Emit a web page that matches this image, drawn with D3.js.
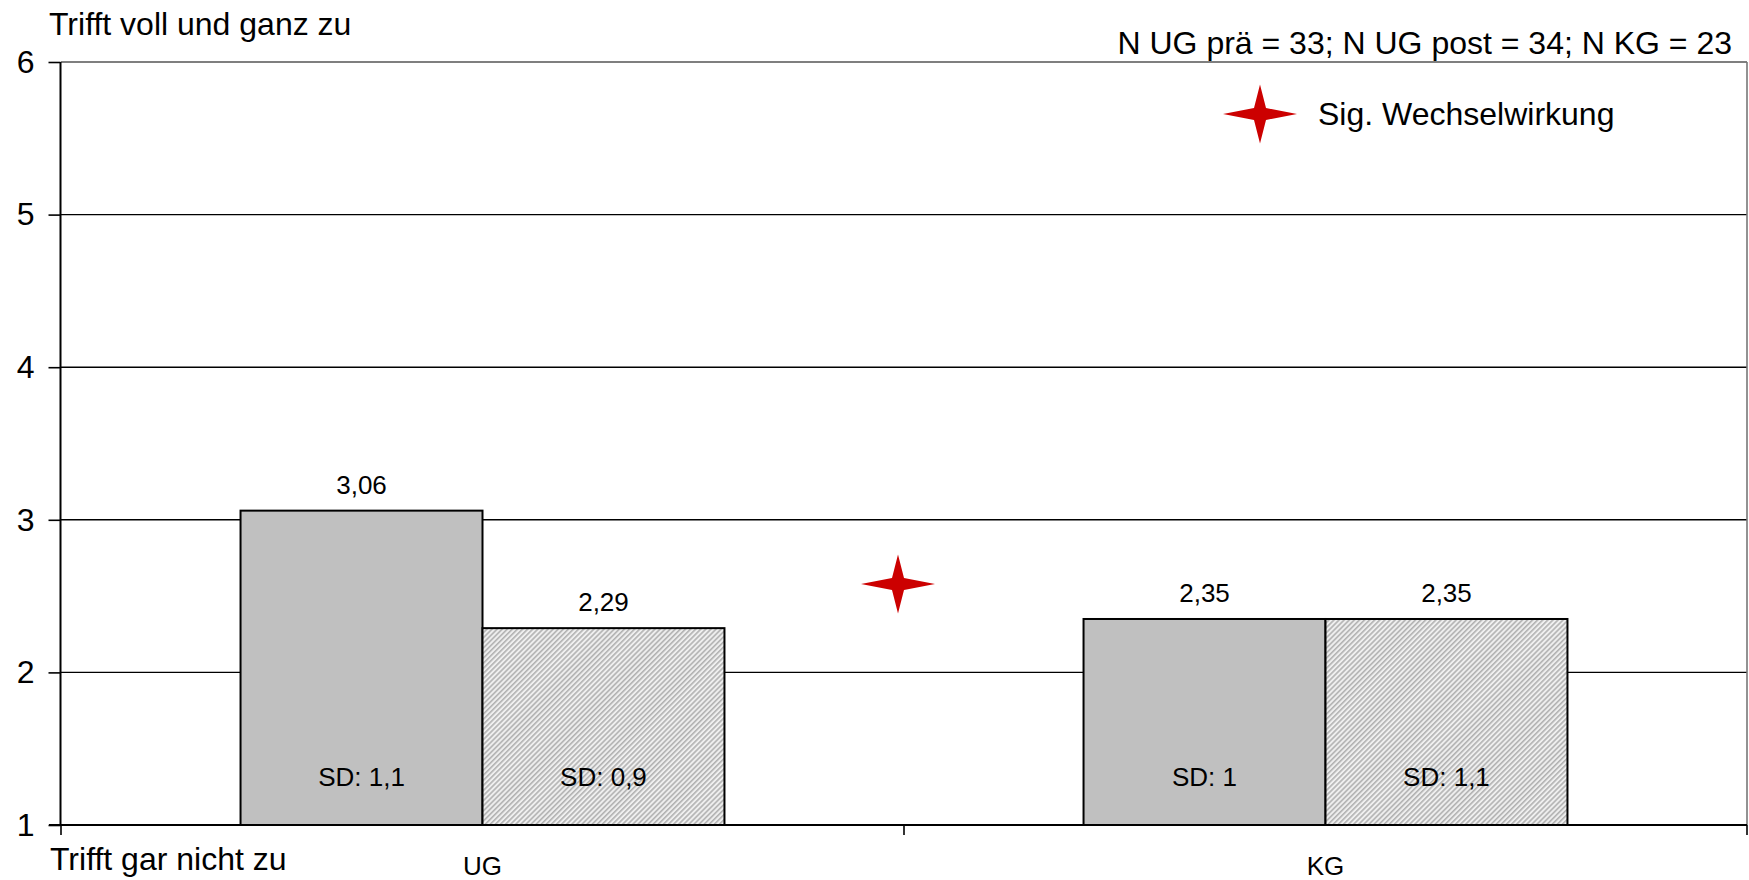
<!DOCTYPE html>
<html>
<head>
<meta charset="utf-8">
<script src="https://cdn.jsdelivr.net/npm/d3@7"></script>
<style>
  html, body { margin: 0; padding: 0; background: #fff; }
  svg text { font-family: "Liberation Sans", Arial, sans-serif; fill: #000; }
</style>
</head>
<body>
<svg id="chart" width="1749" height="880"></svg>
<script>
// ---- data ----
const categories = ["UG", "KG"];
const seriesNames = ["prä", "post"];
const meansPre = [3.06, 2.35];
const meansPost = [2.29, 2.35];
const sdPre = ["1,1", "1"];
const sdPost = ["0,9", "1,1"];
const yTicks = [1, 2, 3, 4, 5, 6];
const yTopLabel = "Trifft voll und ganz zu";
const yBottomLabel = "Trifft gar nicht zu";
const nNote = "N UG prä = 33; N UG post = 34; N KG = 23";
const legendLabel = "Sig. Wechselwirkung";
const starValue = 2.58; // significance marker between groups

(function () {
const fmt = v => v.toFixed(2).replace(".", ",");

const svg = d3.select("#chart");
const pLeft = 61, pRight = 1747, pTop = 62, pBottom = 825;

const y = d3.scaleLinear().domain([1, 6]).range([pBottom, pTop]);
const x0 = d3.scaleBand().domain(categories).range([pLeft, pRight]).padding(0);
const x1 = d3.scaleBand().domain(seriesNames).range([0, x0.bandwidth()])
  .paddingInner(0).paddingOuter(0.742);

// hatch pattern
const defs = svg.append("defs");
const pat = defs.append("pattern").attr("id", "hatch")
  .attr("patternUnits", "userSpaceOnUse")
  .attr("width", 3.6).attr("height", 3.6)
  .attr("patternTransform", "rotate(45)");
pat.append("rect").attr("width", 3.6).attr("height", 3.6).attr("fill", "#efefef");
pat.append("rect").attr("width", 1.6).attr("height", 3.6).attr("fill", "#b2b2b2");

// gridlines
svg.append("g").selectAll("line").data(yTicks.filter(d => d > 1 && d < 6)).join("line")
  .attr("x1", pLeft).attr("x2", pRight)
  .attr("y1", d => y(d)).attr("y2", d => y(d))
  .attr("stroke", "#000").attr("stroke-width", 1.4);

// plot border top and right (gray)
svg.append("line").attr("x1", pLeft).attr("x2", pRight).attr("y1", y(6)).attr("y2", y(6))
  .attr("stroke", "#555").attr("stroke-width", 1.6);
svg.append("line").attr("x1", pRight).attr("x2", pRight).attr("y1", y(6)).attr("y2", y(1))
  .attr("stroke", "#777").attr("stroke-width", 1.6);

// bars
const rows = categories.map((c, i) => ({
  cat: c,
  vals: [
    { s: "prä", v: meansPre[i], sd: sdPre[i] },
    { s: "post", v: meansPost[i], sd: sdPost[i] }
  ]
}));

const g = svg.append("g").selectAll("g").data(rows).join("g")
  .attr("transform", d => `translate(${x0(d.cat)},0)`);

g.selectAll("rect").data(d => d.vals).join("rect")
  .attr("x", d => x1(d.s))
  .attr("width", x1.bandwidth())
  .attr("y", d => y(d.v))
  .attr("height", d => y(1) - y(d.v))
  .attr("fill", d => d.s === "prä" ? "#c0c0c0" : "url(#hatch)")
  .attr("stroke", "#000").attr("stroke-width", 2);

g.selectAll("text.val").data(d => d.vals).join("text")
  .attr("class", "val")
  .attr("x", d => x1(d.s) + x1.bandwidth() / 2)
  .attr("y", d => y(d.v) - 17)
  .attr("text-anchor", "middle")
  .attr("font-size", 26)
  .text(d => fmt(d.v));

g.selectAll("text.sd").data(d => d.vals).join("text")
  .attr("class", "sd")
  .attr("x", d => x1(d.s) + x1.bandwidth() / 2)
  .attr("y", y(1) - 39)
  .attr("text-anchor", "middle")
  .attr("font-size", 26)
  .text(d => "SD: " + d.sd);

// y axis
const yAxis = svg.append("g").attr("transform", `translate(${pLeft - 0.5},0)`)
  .call(d3.axisLeft(y).tickValues(yTicks).tickSize(12).tickPadding(14).tickFormat(d3.format("d")));
yAxis.select(".domain").attr("stroke", "#000").attr("stroke-width", 2).attr("d", `M0,${y(6)}V${y(1)}`);
yAxis.selectAll(".tick line").attr("stroke", "#000").attr("stroke-width", 1.6);
yAxis.selectAll(".tick text").attr("font-size", 32).attr("fill", "#000")
  .style("font-family", '"Liberation Sans", Arial, sans-serif');

// x axis
const xAxisG = svg.append("g").attr("transform", `translate(0,${pBottom})`);
xAxisG.append("line").attr("x1", pLeft - 12).attr("x2", pRight).attr("y1", 0).attr("y2", 0)
  .attr("stroke", "#000").attr("stroke-width", 2);
const xTickPos = [x0("UG"), x0("KG"), x0("KG") + x0.bandwidth()];
xAxisG.selectAll("line.xt").data(xTickPos).join("line").attr("class", "xt")
  .attr("x1", d => d).attr("x2", d => d).attr("y1", 0).attr("y2", 10)
  .attr("stroke", "#000").attr("stroke-width", 1.6);
xAxisG.selectAll("text.cat").data(categories).join("text").attr("class", "cat")
  .attr("x", d => x0(d) + x0.bandwidth() / 2)
  .attr("y", 50)
  .attr("text-anchor", "middle")
  .attr("font-size", 26)
  .text(d => d);

// extreme labels
svg.append("text").attr("x", 49).attr("y", 35).attr("font-size", 32).text(yTopLabel);
svg.append("text").attr("x", 50).attr("y", 870).attr("font-size", 32).text(yBottomLabel);
svg.append("text").attr("x", 1732).attr("y", 54).attr("text-anchor", "end")
  .attr("font-size", 32).text(nNote);

// star shape
function starPath(w, h, a) {
  return `M0,${-h}L${a},${-a}L${w},0L${a},${a}L0,${h}L${-a},${a}L${-w},0L${-a},${-a}Z`;
}
// significance star between groups
svg.append("path")
  .attr("d", starPath(37, 29.5, 6))
  .attr("transform", `translate(${x0("KG") - 6},${y(starValue)})`)
  .attr("fill", "#cc0000");

// legend
svg.append("path")
  .attr("d", starPath(37, 29.5, 6))
  .attr("transform", `translate(1260,114)`)
  .attr("fill", "#cc0000");
svg.append("text").attr("x", 1318).attr("y", 125).attr("font-size", 32).text(legendLabel);
})();
</script>
</body>
</html>
